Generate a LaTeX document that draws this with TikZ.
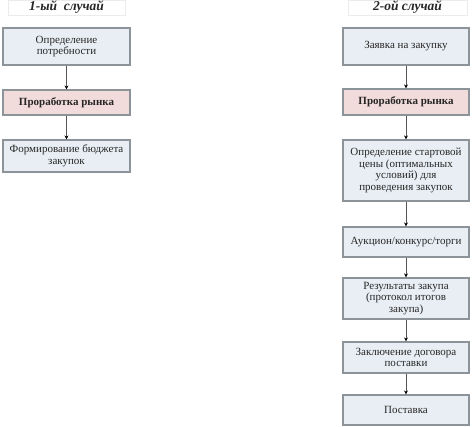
\documentclass[tikz,border=0pt]{standalone}
\usepackage{fontspec}
\setmainfont{Liberation Serif}
\definecolor{boxblue}{HTML}{E9EEF4}
\definecolor{boxpink}{HTML}{F2DCDB}
\definecolor{edgegray}{HTML}{8C9399}
\definecolor{arrowgray}{HTML}{555555}
\usetikzlibrary{arrows.meta,positioning}

\begin{document}
\begin{tikzpicture}[x=1pt,y=-1pt,
  stage/.style={draw=edgegray,line width=1.1pt,fill=boxblue,align=center,
    font=\fontsize{11}{11.5}\selectfont,text=black!85,inner sep=1pt},
  market/.style={stage,fill=boxpink,font=\fontsize{11}{11.5}\selectfont\bfseries},
  casetitle/.style={draw=black!8,fill=white,font=\fontsize{13.5}{14}\selectfont\bfseries\itshape,
    text=black!85,minimum height=15pt,inner sep=0pt},
  flow/.style={arrowgray,line width=1pt,-{Stealth[length=4pt,width=4pt,black]}}]
  \useasboundingbox (0,0) rectangle (474,427);

  % Case 1
  \node[casetitle,minimum width=117pt] (t1) at (66.5,7.5) {1-ый\ \ случай};
  \node[stage,minimum width=127pt,minimum height=37pt] (a1) at (66.5,46.5)
    {Определение\\потребности};
  \node[market,minimum width=127pt,minimum height=25pt] (a2) at (66.5,102.5)
    {Проработка рынка};
  \node[stage,minimum width=127pt,minimum height=32pt] (a3) at (66.5,156)
    {Формирование бюджета\\закупок};

  \draw[flow] (a1) -- (a2);
  \draw[flow] (a2) -- (a3);

  % Case 2
  \node[casetitle,minimum width=119pt] (t2) at (407.5,7.5) {2-ой случай};
  \node[stage,minimum width=126pt,minimum height=37pt] (b1) at (406,46.5)
    {Заявка на закупку};
  \node[market,minimum width=126pt,minimum height=26pt] (b2) at (406,102)
    {Проработка рынка};
  \node[stage,minimum width=126pt,minimum height=61pt] (b3) at (406,170.5)
    {Определение стартовой\\цены (оптимальных\\условий) для\\проведения закупок};
  \node[stage,minimum width=126pt,minimum height=30pt] (b4) at (406,242)
    {Аукцион/конкурс/торги};
  \node[stage,minimum width=126pt,minimum height=41pt] (b5) at (406,298.5)
    {Результаты закупа\\(протокол итогов\\закупа)};
  \node[stage,minimum width=126pt,minimum height=31pt] (b6) at (406,357.5)
    {Заключение договора\\поставки};
  \node[stage,minimum width=126pt,minimum height=30pt] (b7) at (406,410)
    {Поставка};

  \draw[flow] (b1) -- (b2);
  \draw[flow] (b2) -- (b3);
  \draw[flow] (b3) -- (b4);
  \draw[flow] (b4) -- (b5);
  \draw[flow] (b5) -- (b6);
  \draw[flow] (b6) -- (b7);
\end{tikzpicture}
\end{document}
